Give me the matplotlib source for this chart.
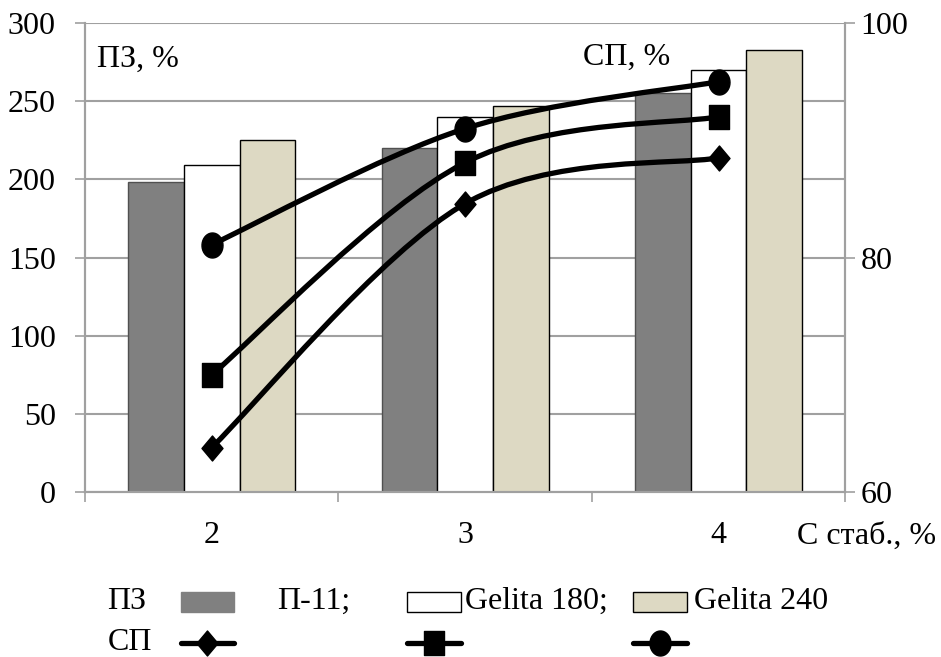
import numpy as np
import matplotlib
matplotlib.use("Agg")
import matplotlib.pyplot as plt
from matplotlib.path import Path
from matplotlib.patches import PathPatch, Rectangle
from matplotlib.lines import Line2D
from matplotlib.transforms import IdentityTransform

# data
categories = ["2", "3", "4"]
pz_p11 = [198, 220, 255]
pz_gelita180 = [209, 240, 270]
pz_gelita240 = [225, 247, 283]
sp_p11 = [63.8, 84.6, 88.5]
sp_gelita180 = [70.0, 88.1, 92.0]
sp_gelita240 = [81.1, 91.0, 95.0]

plt.rcParams['font.family'] = ['Liberation Serif', 'DejaVu Serif']
FS = 23
GRID = '#a0a0a0'

# slightly tall markers, as in the reference
t = np.linspace(0, 2 * np.pi, 40)
ellipse = Path(np.column_stack([0.42 * np.cos(t), 0.5 * np.sin(t)]), closed=True)
diamond = Path([(0, 0.5), (0.42, 0), (0, -0.5), (-0.42, 0), (0, 0.5)], closed=True)
rect = Path([(-0.43, -0.5), (0.43, -0.5), (0.43, 0.5), (-0.43, 0.5), (-0.43, -0.5)], closed=True)

fig = plt.figure(figsize=(9.41, 6.57), dpi=100)
ax = fig.add_axes([0.0903, 0.251, 0.808, 0.714])
ax2 = ax.twinx()

x = np.arange(len(categories))
w = 0.22
ax.bar(x - w, pz_p11, w, color='#808080', edgecolor='#505050', linewidth=1, zorder=2)
ax.bar(x, pz_gelita180, w, color='white', edgecolor='black', linewidth=1, zorder=2)
ax.bar(x + w, pz_gelita240, w, color='#ddd9c3', edgecolor='black', linewidth=1, zorder=2)

ax.set_xlim(-0.5, 2.5)
ax.set_ylim(0, 300)
ax.set_yticks(range(0, 301, 50))
ax.yaxis.grid(True, color=GRID, linewidth=1.5, zorder=0)
ax.set_axisbelow(True)
ax.tick_params(axis='y', direction='out', length=7, width=1.2, color=GRID,
               labelsize=FS, pad=14)
ax.set_xticks([-0.5, 0.5, 1.5, 2.5])
ax.set_xticklabels([])
ax.set_xticks(x, minor=True)
ax.set_xticklabels(categories, minor=True)
ax.tick_params(axis='x', which='major', direction='out', length=7, width=1.2, color=GRID)
ax.tick_params(axis='x', which='minor', length=0, labelsize=FS, pad=21)
for s in ['left', 'bottom', 'right', 'top']:
    ax.spines[s].set_color(GRID)
    ax.spines[s].set_linewidth(1.5)
ax.spines['top'].set_visible(False)

ax2.set_ylim(60, 100)
ax2.set_yticks([60, 80, 100])
ax2.tick_params(axis='y', direction='out', length=7, width=1.2, color=GRID,
                labelsize=FS, pad=4)
for s in ['left', 'bottom', 'right', 'top']:
    ax2.spines[s].set_color(GRID)
    ax2.spines[s].set_linewidth(1.5)
ax2.spines['top'].set_visible(False)


def smooth_path(xs, ys, axis):
    # Bezier curve through the points in screen space (like a smoothed line)
    pts = axis.transData.transform(np.column_stack([xs, ys]))
    n = len(pts)
    verts = [pts[0]]
    codes = [Path.MOVETO]
    for i in range(n - 1):
        p0 = pts[max(i - 1, 0)]
        p1 = pts[i]
        p2 = pts[i + 1]
        p3 = pts[min(i + 2, n - 1)]
        c1 = p1 + (p2 - p0) / 6.0
        c2 = p2 - (p3 - p1) / 6.0
        verts += [c1, c2, p2]
        codes += [Path.CURVE4] * 3
    return Path(verts, codes)


series = [(sp_p11, diamond, 18), (sp_gelita180, rect, 17), (sp_gelita240, ellipse, 18)]
for vals, mk, ms in series:
    path = smooth_path(x, vals, ax2)
    ax2.add_patch(PathPatch(path, facecolor='none', edgecolor='black', linewidth=3.8,
                            transform=IdentityTransform(), zorder=3))
    ax2.plot(x, vals, linestyle='none', marker=mk, markersize=ms,
             color='black', zorder=4)

# axis labels
fig.text(0.103, 0.910, 'ПЗ, %', fontsize=FS, va='center', ha='left')
fig.text(0.620, 0.912, 'СП, %', fontsize=FS, va='center', ha='left')
fig.text(0.847, 0.183, 'С стаб., %', fontsize=FS, va='center', ha='left')

# legend
y1, y2 = 0.084, 0.022
fig.text(0.114, y1, 'ПЗ', fontsize=FS, va='center')
fig.text(0.114, y2, 'СП', fontsize=FS, va='center')
fig.text(0.294, y1, 'П-11;', fontsize=FS, va='center')
fig.text(0.494, y1, 'Gelita 180;', fontsize=FS, va='center')
fig.text(0.738, y1, 'Gelita 240', fontsize=FS, va='center')
ph = 20 / 657
pw = 0.057
patch_x = [0.192, 0.433, 0.673]
patch_colors = [('#808080', '#808080'), ('white', 'black'), ('#ddd9c3', 'black')]
for px, (fc, ec) in zip(patch_x, patch_colors):
    fig.add_artist(Rectangle((px, y1 - ph / 2), pw, ph, facecolor=fc, edgecolor=ec,
                             linewidth=1, transform=fig.transFigure))
for (vals, mk, ms), px in zip(series, patch_x):
    fig.add_artist(Line2D([px, px + pw / 2, px + pw], [y2, y2, y2], color='black',
                          linewidth=3.8, marker=mk, markersize=ms, markevery=[1],
                          solid_capstyle='round', transform=fig.transFigure))

fig.savefig('out.png', dpi=100)
